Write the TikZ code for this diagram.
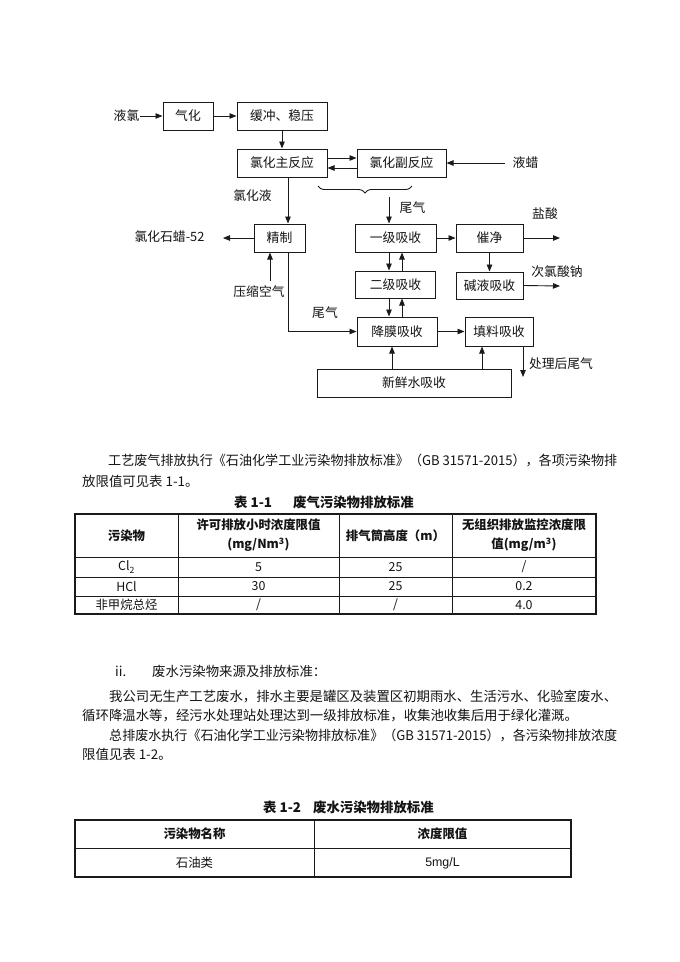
\documentclass[tikz,border=0pt]{standalone}
\usepackage{fontspec}
\setmainfont{Noto Sans CJK SC}
\newfontfamily\latinsans{Liberation Sans}
\usetikzlibrary{arrows.meta,decorations.pathreplacing}
\definecolor{inkLine}{HTML}{1A1A1A}
\definecolor{inkText}{HTML}{141414}
\newcommand{\diagtext}{\fontsize{12.8pt}{15pt}\selectfont}
\newcommand{\bodytext}{\fontsize{13.4pt}{16pt}\selectfont}
\newcommand{\celltext}{\fontsize{12.4pt}{19pt}\selectfont}
\newcommand{\fullline}[2]{\resizebox{#1}{\height}{#2}}
\tikzset{
  procbox/.style ={draw=inkLine,line width=1pt,minimum height=28pt,
                   inner sep=0pt,font=\diagtext,text=inkText},
  flow/.style    ={draw=inkLine,line width=0.9pt,
                   -{Triangle[length=7pt,width=5.5pt]}},
  flowlbl/.style ={font=\diagtext,text=inkText,inner sep=0pt},
  bodyline/.style={font=\bodytext,text=inkText,inner sep=0pt,anchor=west},
  cell/.style    ={font=\celltext,text=inkText,inner sep=0pt,align=center},
  headcell/.style={cell,font=\celltext\bfseries},
  tabrule/.style ={draw=inkLine,line width=0.8pt},
  tabframe/.style={draw=inkLine,line width=1.2pt},
}

\begin{document}
\begin{tikzpicture}[x=1pt,y=-1pt]
  \fill[white] (0,0) rectangle (680,962);
  \useasboundingbox (0,0) rectangle (680,962);
  % process flow
  \node[procbox,minimum width=50pt]  (vap)    at (188,116)   {气化};
  \node[procbox,minimum width=90pt]  (buf)    at (282,116)   {缓冲、稳压};
  \node[procbox,minimum width=90pt]  (mainr)  at (282,163)   {氯化主反应};
  \node[procbox,minimum width=89pt]  (sider)  at (401.5,163) {氯化副反应};
  \node[procbox,minimum width=51pt]  (refine) at (279.5,238) {精制};
  \node[procbox,minimum width=81pt]  (abs1)   at (395.5,238) {一级吸收};
  \node[procbox,minimum width=67pt]  (clean)  at (489.5,238) {催净};
  \node[procbox,minimum width=80pt,minimum height=27pt] (abs2)   at (395.5,284.5) {二级吸收};
  \node[procbox,minimum width=67pt,minimum height=27pt] (alkali) at (489.5,285.5) {碱液吸收};
  \node[procbox,minimum width=80pt,minimum height=29pt] (film)   at (397,331.5)   {降膜吸收};
  \node[procbox,minimum width=68pt,minimum height=29pt] (pack)   at (499,331.5)   {填料吸收};
  \node[procbox,minimum width=194pt] (fresh)  at (414,383)   {新鲜水吸收};

  \node[flowlbl] (lcl)   at (126.5,116) {液氯};
  \node[flowlbl] (wax)   at (525.5,163) {液蜡};
  \node[flowlbl] (liq)   at (252.5,196) {氯化液};
  \node[flowlbl] (tail1) at (412.5,208) {尾气};
  \node[flowlbl] (cp52)  at (169.5,237) {氯化石蜡-52};
  \node[flowlbl] (air)   at (259,292)   {压缩空气};
  \node[flowlbl] (tail2) at (325,313)   {尾气};
  \node[flowlbl] (hcl)   at (545,214)   {盐酸};
  \node[flowlbl] (naclo) at (557,272)   {次氯酸钠};
  \node[flowlbl] (vent)  at (561,364)   {处理后尾气};

  \coordinate (brl)      at (318,186);
  \coordinate (brr)      at (412,186);
  \coordinate (tailin)   at (389,197);
  \coordinate (trunk)    at (288,0);
  \coordinate (airup)    at (270,281);
  \coordinate (cpend)    at (223,238);
  \coordinate (hclend)   at (560,238);
  \coordinate (nacloend) at (560,286);
  \coordinate (ventend)  at (523,377);
  \coordinate (hi)  at (0,158);
  \coordinate (lo)  at (0,168);
  \coordinate (cdn) at (389,0);
  \coordinate (cup) at (402,0);
  \coordinate (cfa) at (392,0);
  \coordinate (cfb) at (482,0);

  \draw[flow] (lcl) -- (vap);
  \draw[flow] (vap) -- (buf);
  \draw[flow] (buf) -- (mainr);
  \draw[flow] (mainr.east |- hi) -- (sider.west |- hi);
  \draw[flow] (sider.west |- lo) -- (mainr.east |- lo);
  \draw[flow] ([xshift=-8pt]wax.west) -- (sider.east);
  \draw[decorate,decoration={brace,mirror,amplitude=7pt},
        draw=inkLine,line width=0.9pt] (brl) -- (brr);
  \draw[flow] (tailin) -- (tailin |- abs1.north);
  \draw[flow] (mainr.south -| trunk) -- (refine.north -| trunk);
  \draw[flow] (refine.west) -- (cpend);
  \draw[flow] (airup) -- (airup |- refine.south);
  \draw[flow] (refine.south -| trunk) |- (film.west);
  \draw[flow] (abs1) -- (clean);
  \draw[flow] (clean.east) -- (hclend);
  \draw[flow] (clean) -- (alkali);
  \draw[flow] (alkali.east) -- (nacloend);
  \draw[flow] (abs1.south -| cdn) -- (abs2.north -| cdn);
  \draw[flow] (abs2.north -| cup) -- (abs1.south -| cup);
  \draw[flow] (abs2.south -| cdn) -- (film.north -| cdn);
  \draw[flow] (film.north -| cup) -- (abs2.south -| cup);
  \draw[flow] (film) -- (pack);
  \draw[flow] (pack.south -| ventend) -- (ventend);
  \draw[flow] (fresh.north -| cfa) -- (film.south -| cfa);
  \draw[flow] (fresh.north -| cfb) -- (pack.south -| cfb);

  % text of the page
  \node[bodyline] (p1a) at (108,460)
    {\fullline{509pt}{工艺废气排放执行《石油化学工业污染物排放标准》（GB 31571-2015），各项污染物排}};
  \node[bodyline] (p1b) at (82,481) {放限值可见表 1-1。};
  \node[bodyline,font=\bodytext\bfseries] (cap1) at (234,502)
    {表 1-1\hspace{21pt}废气污染物排放标准};

  \draw[tabframe] (75,514) rectangle (596,614);
  \foreach \yy in {557,577,596}
    \draw[tabrule] (75,\yy) -- (596,\yy);
  \foreach \xx in {178,339,452}
    \draw[tabrule] (\xx,514) -- (\xx,614);
  \node[headcell] (t1a) at (126.5,535.5) {污染物};
  \node[headcell] (t1b) at (258.5,535.5) {许可排放小时浓度限值\\(mg/Nm\textsuperscript{3})};
  \node[headcell] (t1c) at (395.5,535.5) {排气筒高度（m）};
  \node[headcell] (t1d) at (524,535.5)   {无组织排放监控浓度限\\值(mg/m\textsuperscript{3})};
  \node[cell] (r1a) at (126.5,567) {Cl\textsubscript{2}};
  \node[cell] (r1b) at (258.5,567) {5};
  \node[cell] (r1c) at (395.5,567) {25};
  \node[cell] (r1d) at (524,567)   {/};
  \node[cell] (r2a) at (126.5,586.5) {HCl};
  \node[cell] (r2b) at (258.5,586.5) {30};
  \node[cell] (r2c) at (395.5,586.5) {25};
  \node[cell] (r2d) at (524,586.5)   {0.2};
  \node[cell] (r3a) at (126.5,605) {非甲烷总烃};
  \node[cell] (r3b) at (258.5,605) {/};
  \node[cell] (r3c) at (395.5,605) {/};
  \node[cell] (r3d) at (524,605)   {4.0};

  \node[bodyline] (sec)  at (115,671) {ii.};
  \node[bodyline] (sech) at (152,671) {废水污染物来源及排放标准：};
  \node[bodyline] (p2a) at (109,697)
    {\fullline{508pt}{我公司无生产工艺废水，排水主要是罐区及装置区初期雨水、生活污水、化验室废水、}};
  \node[bodyline] (p2b) at (82,716) {循环降温水等，经污水处理站处理达到一级排放标准，收集池收集后用于绿化灌溉。};
  \node[bodyline] (p2c) at (109,735)
    {\fullline{508pt}{总排废水执行《石油化学工业污染物排放标准》（GB 31571-2015），各污染物排放浓度}};
  \node[bodyline] (p2d) at (82,754) {限值见表 1-2。};
  \node[bodyline,font=\bodytext\bfseries] (cap2) at (263,807)
    {表 1-2\hspace{12pt}废水污染物排放标准};

  \draw[tabframe] (75,820) rectangle (571,877);
  \draw[tabrule] (75,848) -- (571,848);
  \draw[tabrule] (314,820) -- (314,877);
  \node[headcell] (t2a) at (194.5,834) {污染物名称};
  \node[headcell] (t2b) at (442.5,834) {浓度限值};
  \node[cell] (s1a) at (194.5,863) {石油类};
  \node[cell] (s1b) at (442.5,863) {\latinsans 5mg/L};
\end{tikzpicture}
\end{document}
